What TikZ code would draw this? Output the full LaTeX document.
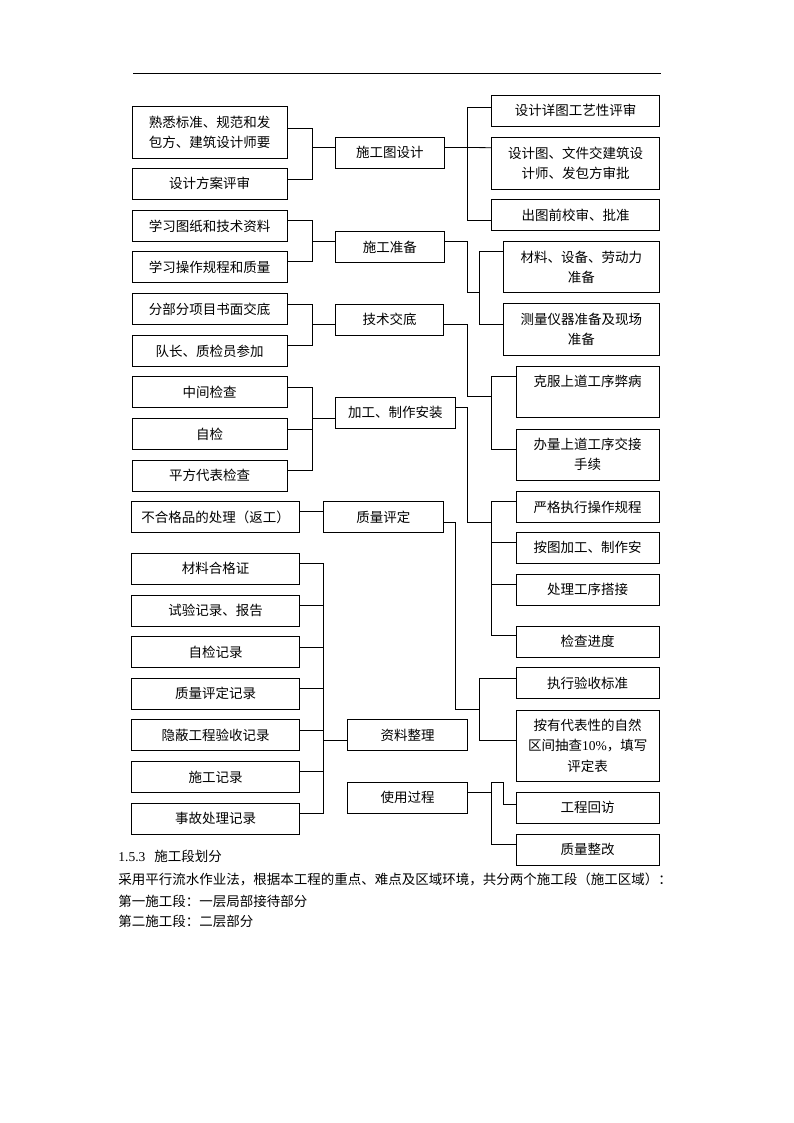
\documentclass[tikz,border=0pt]{standalone}
\usepackage{fontspec}
\newfontfamily\cjk{Noto Sans CJK SC}
\newfontfamily\lat{Liberation Serif}
\begin{document}
\begin{tikzpicture}[x=1pt,y=-1pt,line width=0.8pt,
	box/.style={draw,inner sep=0pt,align=center,minimum height=31,
		font=\cjk\fontsize{13.5}{20.5}\selectfont},
	lbox/.style={box,minimum width=155},
	wbox/.style={box,minimum width=167.6},
	mbox/.style={box,minimum width=108.3},
	rbox/.style={box,minimum width=143.3},
	txt/.style={anchor=west,inner sep=0pt,font=\cjk\fontsize{13.5}{20.5}\selectfont}]
	\fill[white] (0,0) rectangle (794,1123);
	\useasboundingbox (0,0) rectangle (794,1123);
	\draw (133,73)--(661,73);
	% left column
	\node[lbox,minimum height=51.3] (a1) at (209.5,132.3) {熟悉标准、规范和发\\包方、建筑设计师要};
	\node[lbox] (a2) at (209.5,183.5) {设计方案评审};
	\node[lbox] (b1) at (209.5,226.2) {学习图纸和技术资料};
	\node[lbox] (b2) at (209.5,267.2) {学习操作规程和质量};
	\node[lbox] (c1) at (209.5,309) {分部分项目书面交底};
	\node[lbox] (c2) at (209.5,351) {队长、质检员参加};
	\node[lbox] (d1) at (209.5,392.3) {中间检查};
	\node[lbox] (d2) at (209.5,434.2) {自检};
	\node[lbox] (d3) at (209.5,475.5) {平方代表检查};
	\node[wbox] (e1) at (215.5,517) {不合格品的处理（返工）};
	\node[wbox] (f1) at (215.5,568.8) {材料合格证};
	\node[wbox] (f2) at (215.5,610.8) {试验记录、报告};
	\node[wbox] (f3) at (215.5,652) {自检记录};
	\node[wbox] (f4) at (215.5,693.8) {质量评定记录};
	\node[wbox] (f5) at (215.5,735.2) {隐蔽工程验收记录};
	\node[wbox] (f6) at (215.5,777) {施工记录};
	\node[wbox] (f7) at (215.5,818.8) {事故处理记录};
	% middle column
	\node[mbox] (sg) at (389.8,152.8) {施工图设计};
	\node[mbox] (sz) at (389.8,247) {施工准备};
	\node[mbox,minimum width=107.6] (js) at (389.5,319.5) {技术交底};
	\node[box,minimum width=119.3] (jg) at (395.3,412.8) {加工、制作安装};
	\node[box,minimum width=120] (zp) at (383.3,517) {质量评定};
	\node[box,minimum width=119.6] (zl) at (407.5,735.2) {资料整理};
	\node[box,minimum width=119.6] (sy) at (407.5,797.8) {使用过程};
	% right column
	\node[wbox] (r1) at (575.5,110.8) {设计详图工艺性评审};
	\node[wbox,minimum height=52] (r2) at (575.5,163.3) {设计图、文件交建筑设\\计师、发包方审批};
	\node[wbox] (r3) at (575.5,215.2) {出图前校审、批准};
	\node[box,minimum width=156,minimum height=51] (r4) at (581.3,267.2) {材料、设备、劳动力\\准备};
	\node[box,minimum width=156,minimum height=51.7] (r5) at (581.3,329.2) {测量仪器准备及现场\\准备};
	\node[rbox,minimum height=51.7] (r6) at (587.7,391.8) {克服上道工序弊病\\\phantom{手续}};
	\node[rbox,minimum height=51] (r7) at (587.7,454.5) {办量上道工序交接\\手续};
	\node[rbox] (r8) at (587.7,507) {严格执行操作规程};
	\node[rbox] (r9) at (587.7,547.8) {按图加工、制作安};
	\node[rbox] (r10) at (587.7,589.8) {处理工序搭接};
	\node[rbox] (r11) at (587.7,641.7) {检查进度};
	\node[rbox] (r12) at (587.7,683.2) {执行验收标准};
	\node[rbox,minimum height=71.7] (r13) at (587.7,745.8) {按有代表性的自然\\区间抽查{\lat 10\%}，填写\\评定表};
	\node[rbox] (r14) at (587.7,807.8) {工程回访};
	\node[rbox] (r15) at (587.7,849.5) {质量整改};
	% connectors
	\coordinate (k1) at (312,147.3);
	\draw ([yshift=4.3]a1.east) -| (k1);
	\draw ([yshift=4.5]a2.east) -| (k1) -- ([yshift=5.5]sg.west);
	\coordinate (k2) at (467,147.5);
	\draw ([yshift=5.3]sg.east) -- (k2) -- ([yshift=15.6]r2.west);
	\draw ([yshift=3.5]r1.west) -| (k2);
	\draw ([yshift=-4.8]r3.west) -| (k2);
	\coordinate (k3) at (312,241.7);
	\draw ([yshift=5.5]b1.east) -| (k3);
	\draw ([yshift=5.5]b2.east) -| (k3) -- ([yshift=5.3]sz.west);
	\coordinate (k4) at (467,292.7);
	\coordinate (k5) at (479.3,292.7);
	\draw ([yshift=5.3]sz.east) -| (k4) -- (k5);
	\draw ([yshift=15.5]r4.west) -| (k5);
	\draw ([yshift=5.2]r5.west) -| (k5);
	\coordinate (k6) at (312,324);
	\draw ([yshift=5]c1.east) -| (k6);
	\draw ([yshift=5.3]c2.east) -| (k6) -- ([yshift=-4.5]js.west);
	\coordinate (k7) at (467,396.7);
	\coordinate (k8) at (491.7,396.7);
	\draw ([yshift=-4.5]js.east) -| (k7) -- (k8);
	\draw ([yshift=15.8]r6.west) -| (k8);
	\draw ([yshift=5.5]r7.west) -| (k8);
	\coordinate (k9) at (312,418.3);
	\draw ([yshift=4.6]d1.east) -| (k9);
	\draw ([yshift=5.2]d2.east) -| (k9);
	\draw ([yshift=4.8]d3.east) -| (k9) -- ([yshift=-5.5]jg.west);
	\coordinate (k10) at (467,522.3);
	\coordinate (k11) at (491.7,522.3);
	\draw ([yshift=5]jg.east) -| (k10) -- (k11);
	\draw ([yshift=5.3]r8.west) -| (k11);
	\draw ([yshift=5]r9.west) -| (k11);
	\draw ([yshift=5.5]r10.west) -| (k11);
	\draw ([yshift=6]r11.west) -| (k11);
	\draw ([yshift=5.3]e1.east) -- ([yshift=5.3]zp.west);
	\coordinate (k12) at (455,709.3);
	\coordinate (k13) at (479.3,709.3);
	\draw ([yshift=-5.3]zp.east) -| (k12) -- (k13);
	\draw ([yshift=4.9]r12.west) -| (k13);
	\draw ([yshift=5.5]r13.west) -| (k13);
	\coordinate (k14) at (323.3,740.3);
	\foreach \n/\s in {f1/5.5,f2/5.1,f3/5,f4/5.5,f5/4.9,f6/6,f7/5.5}
		\draw ([yshift=\s]\n.east) -| (k14);
	\draw (k14) -- ([yshift=-5.1]zl.west);
	\coordinate (k15) at (491.7,792);
	\coordinate (k16) at (491.7,782.3);
	\coordinate (k17) at (503.3,782.3);
	\draw ([yshift=5.8]sy.east) -- (k15);
	\draw ([yshift=5.2]r15.west) -| (k16) -- (k17) |- ([yshift=3.8]r14.west);
	% text below
	\node[txt] (t1) at (118,856.7) {{\lat 1.5.3}\hspace{9pt}施工段划分};
	\node[txt] (t2) at (118,879.3) {采用平行流水作业法，根据本工程的重点、难点及区域环境，共分两个施工段（施工区域）：};
	\node[txt] (t3) at (118,901.7) {第一施工段：一层局部接待部分};
	\node[txt] (t4) at (118,921) {第二施工段：二层部分};
\end{tikzpicture}
\end{document}
